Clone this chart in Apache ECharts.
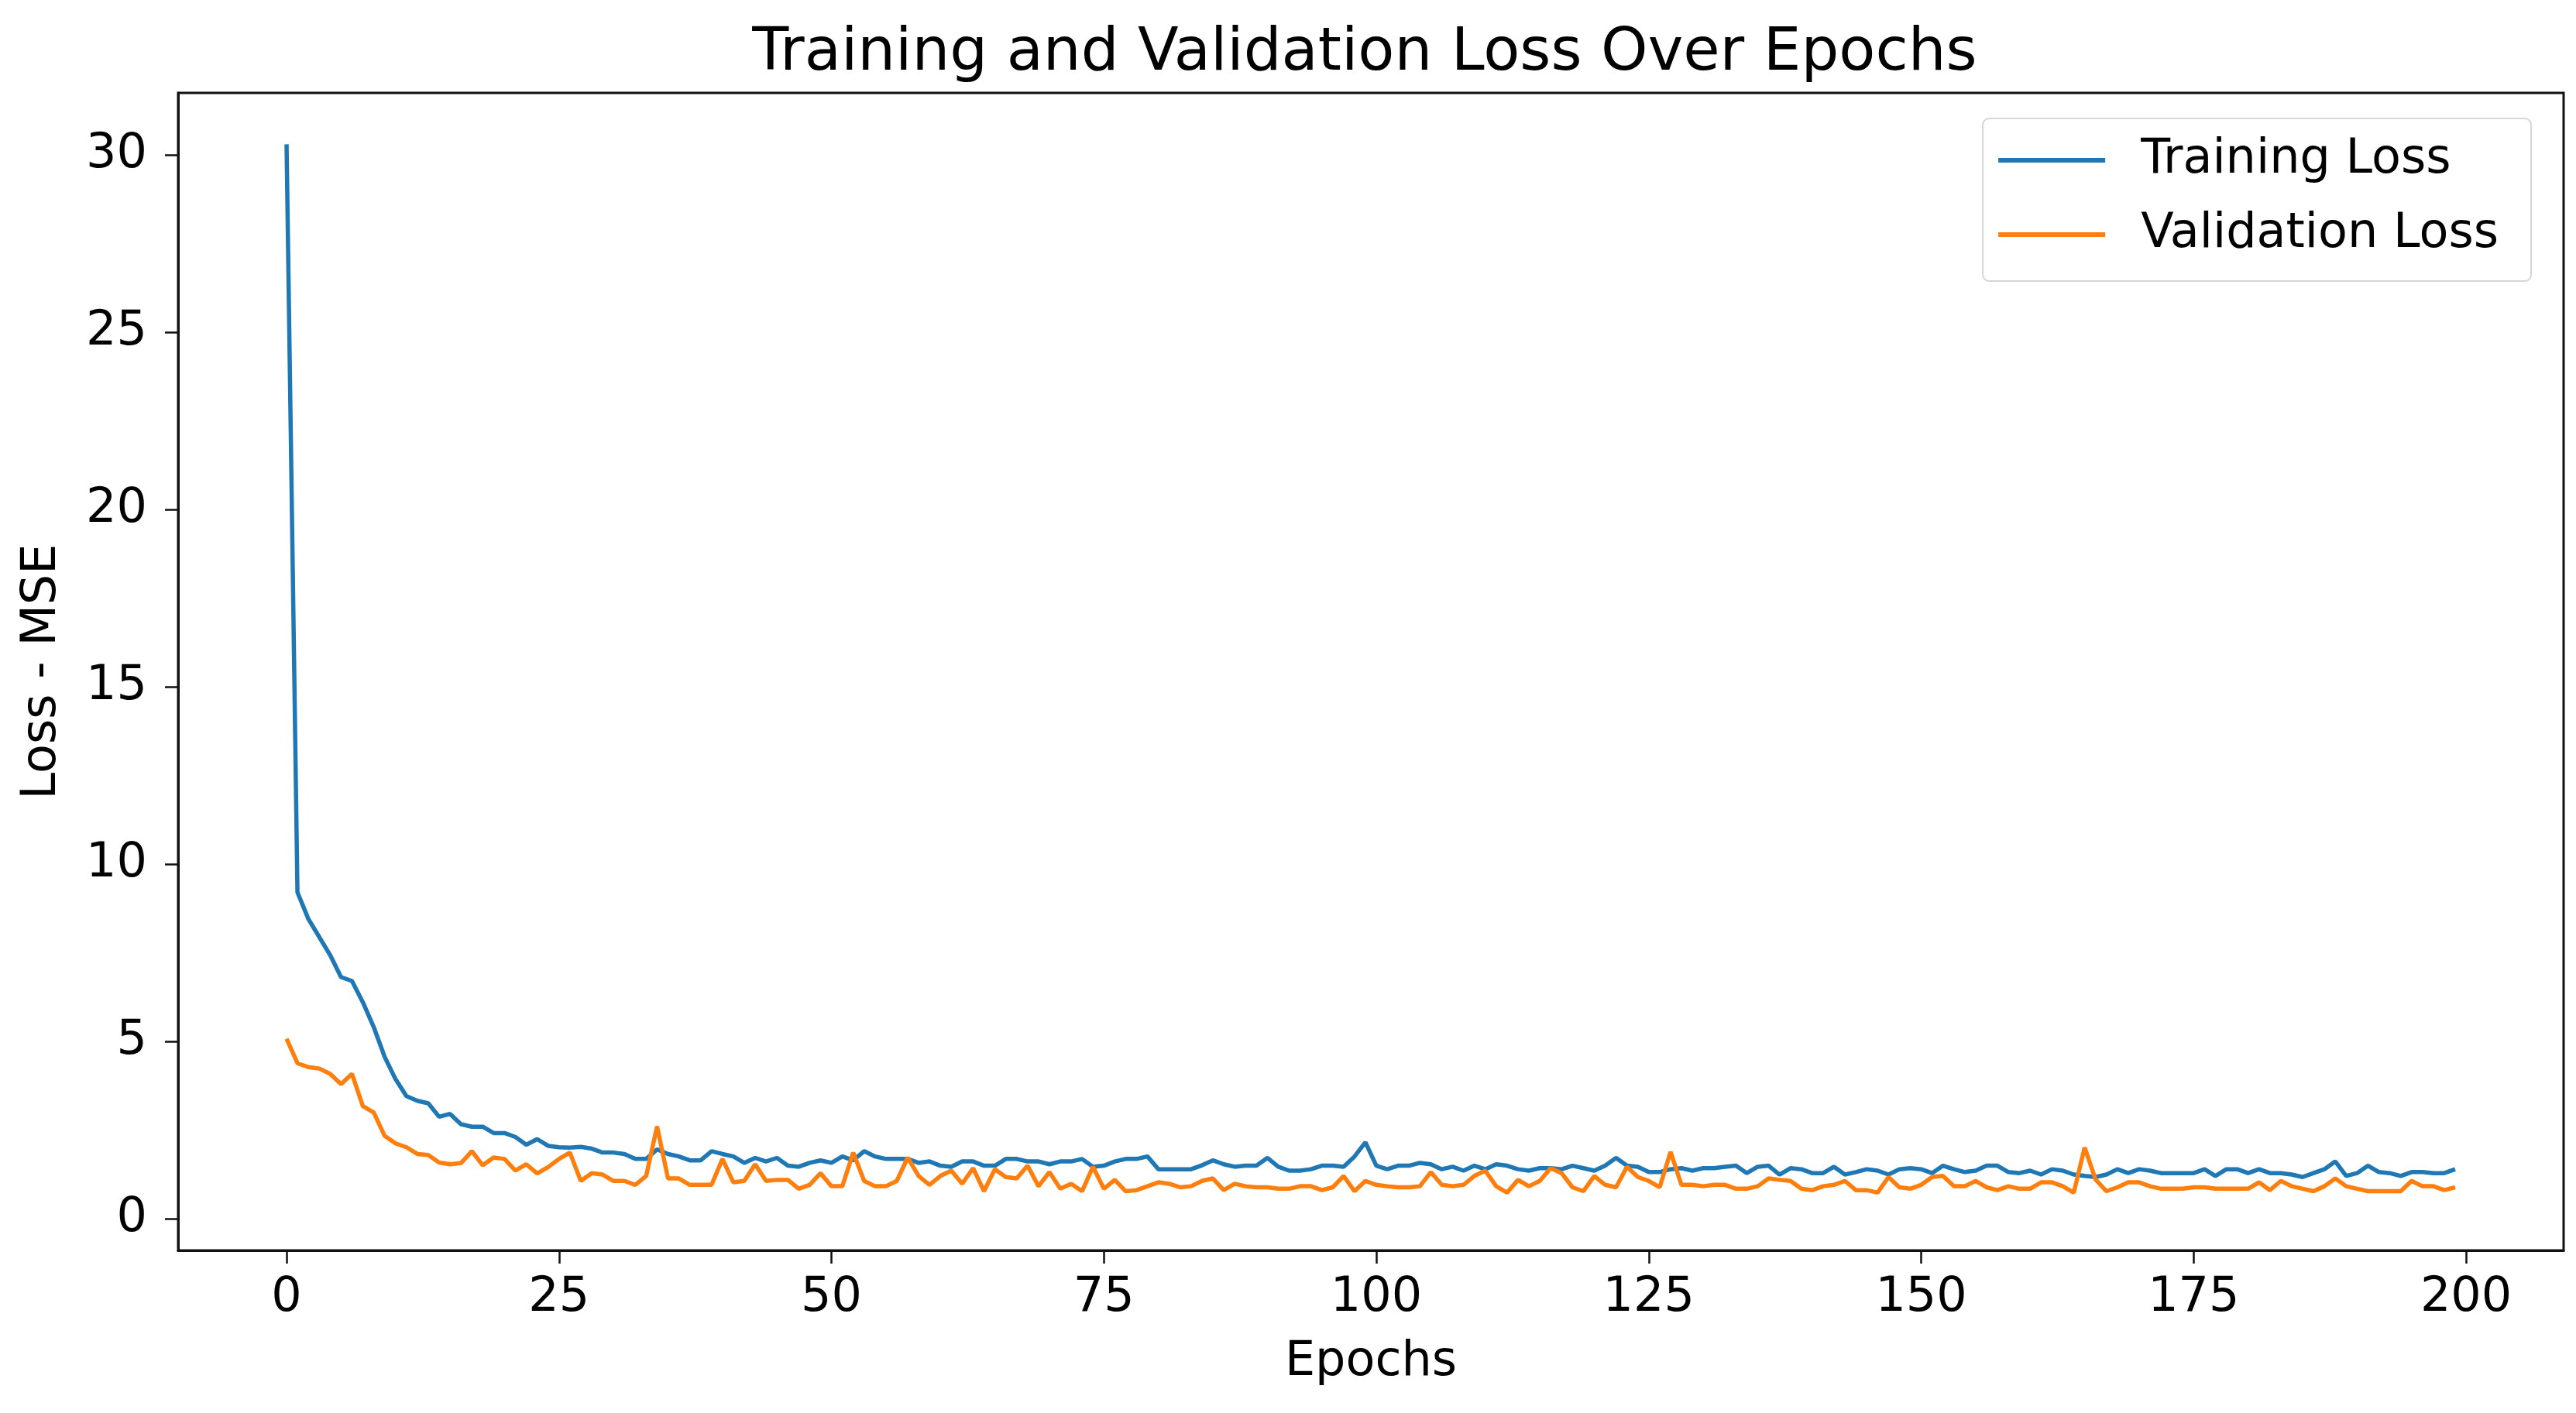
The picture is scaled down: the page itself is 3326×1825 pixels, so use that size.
<!DOCTYPE html>
<html>
<head>
<meta charset="utf-8">
<script src="https://cdn.jsdelivr.net/npm/echarts@6/dist/echarts.min.js"></script>
<style>html,body{margin:0;padding:0;background:#fff}#c{width:3326px;height:1825px}</style>
</head>
<body>
<div id="c"></div>
<script>
const titleText = 'Training and Validation Loss Over Epochs';
const xTicks = [0, 25, 50, 75, 100, 125, 150, 175, 200];
const yTicks = [0, 5, 10, 15, 20, 25, 30];
const seriesNames = ['Training Loss', 'Validation Loss'];

const trainingLoss = [
  30.3, 9.2, 8.45, 7.94, 7.43, 6.81, 6.7, 6.1, 5.4, 4.56,
  3.93, 3.45, 3.32, 3.25, 2.87, 2.95, 2.66, 2.59, 2.59, 2.41,
  2.41, 2.30, 2.08, 2.24, 2.05, 2.01, 2.0, 2.02, 1.97, 1.86,
  1.86, 1.82, 1.68, 1.68, 1.95, 1.82, 1.75, 1.64, 1.64, 1.90,
  1.82, 1.75, 1.57, 1.71, 1.61, 1.71, 1.49, 1.46, 1.57, 1.64,
  1.57, 1.75, 1.64, 1.90, 1.75, 1.68, 1.68, 1.68, 1.57, 1.61,
  1.49, 1.46, 1.61, 1.61, 1.49, 1.49, 1.68, 1.68, 1.61, 1.61,
  1.53, 1.61, 1.61, 1.68, 1.46, 1.49, 1.61, 1.68, 1.68, 1.75,
  1.39, 1.39, 1.39, 1.39, 1.50, 1.64, 1.53, 1.46, 1.49, 1.49,
  1.71, 1.46, 1.35, 1.35, 1.39, 1.49, 1.49, 1.46, 1.75, 2.15,
  1.49, 1.39, 1.49, 1.49, 1.57, 1.53, 1.39, 1.46, 1.35, 1.49,
  1.39, 1.53, 1.49, 1.39, 1.35, 1.42, 1.42, 1.39, 1.49, 1.42,
  1.35, 1.49, 1.71, 1.49, 1.46, 1.31, 1.31, 1.39, 1.42, 1.35,
  1.42, 1.42, 1.46, 1.49, 1.28, 1.46, 1.49, 1.24, 1.42, 1.39,
  1.28, 1.28, 1.46, 1.24, 1.31, 1.39, 1.35, 1.24, 1.39, 1.42,
  1.39, 1.28, 1.49, 1.39, 1.31, 1.35, 1.49, 1.49, 1.31, 1.28,
  1.35, 1.24, 1.39, 1.35, 1.24, 1.20, 1.17, 1.24, 1.39, 1.28,
  1.39, 1.35, 1.28, 1.28, 1.28, 1.28, 1.39, 1.20, 1.39, 1.39,
  1.28, 1.39, 1.28, 1.28, 1.24, 1.17, 1.28, 1.39, 1.61, 1.20,
  1.28, 1.49, 1.31, 1.28, 1.20, 1.31, 1.31, 1.28, 1.28, 1.39
];

const validationLoss = [
  5.07, 4.38, 4.27, 4.23, 4.08, 3.79, 4.08, 3.17, 2.99, 2.33,
  2.12, 2.01, 1.82, 1.79, 1.58, 1.53, 1.56, 1.90, 1.50, 1.72,
  1.68, 1.35, 1.53, 1.27, 1.45, 1.68, 1.86, 1.06, 1.28, 1.24,
  1.06, 1.06, 0.95, 1.20, 2.60, 1.13, 1.13, 0.95, 0.95, 0.95,
  1.68, 1.02, 1.06, 1.53, 1.06, 1.09, 1.09, 0.84, 0.95, 1.28,
  0.91, 0.91, 1.86, 1.06, 0.91, 0.91, 1.06, 1.72, 1.20, 0.95,
  1.20, 1.35, 0.98, 1.42, 0.77, 1.39, 1.17, 1.13, 1.49, 0.91,
  1.31, 0.84, 0.98, 0.77, 1.46, 0.84, 1.09, 0.77, 0.80, 0.91,
  1.02, 0.98, 0.88, 0.91, 1.06, 1.13, 0.80, 0.98, 0.91, 0.88,
  0.88, 0.84, 0.84, 0.91, 0.91, 0.80, 0.88, 1.20, 0.77, 1.06,
  0.95, 0.91, 0.88, 0.88, 0.91, 1.31, 0.95, 0.91, 0.95, 1.20,
  1.35, 0.91, 0.73, 1.09, 0.91, 1.06, 1.42, 1.28, 0.88, 0.77,
  1.20, 0.95, 0.88, 1.46, 1.17, 1.06, 0.88, 1.88, 0.95, 0.95,
  0.91, 0.95, 0.95, 0.84, 0.84, 0.91, 1.13, 1.09, 1.06, 0.84,
  0.80, 0.91, 0.95, 1.06, 0.80, 0.80, 0.73, 1.17, 0.88, 0.84,
  0.95, 1.17, 1.20, 0.91, 0.91, 1.06, 0.88, 0.80, 0.91, 0.84,
  0.84, 1.02, 1.02, 0.91, 0.73, 2.00, 1.10, 0.77, 0.88, 1.02,
  1.02, 0.91, 0.84, 0.84, 0.84, 0.88, 0.88, 0.84, 0.84, 0.84,
  0.84, 1.02, 0.80, 1.06, 0.91, 0.84, 0.77, 0.91, 1.13, 0.91,
  0.84, 0.77, 0.77, 0.77, 0.77, 1.06, 0.91, 0.91, 0.80, 0.88
];

const toPairs = arr => arr.map((v, i) => [i, v]);
const FONT = 'DejaVu Sans';

const chart = echarts.init(document.getElementById('c'), null, {renderer: 'canvas'});
chart.setOption({
  animation: false,
  backgroundColor: '#ffffff',
  title: {
    text: titleText,
    left: 1757,
    textAlign: 'center',
    top: 26,
    textStyle: {fontFamily: FONT, fontSize: 77, fontWeight: 'normal', color: '#000'}
  },
  legend: {
    orient: 'vertical',
    right: 58,
    top: 153,
    data: seriesNames.map(n => ({name: n, icon: 'rect'})),
    itemWidth: 138,
    itemHeight: 6,
    itemGap: 26,
    padding: [19, 42, 25, 20],
    borderColor: '#d6d6d6',
    borderWidth: 2,
    borderRadius: 8,
    backgroundColor: '#fff',
    textStyle: {fontFamily: FONT, fontSize: 62, color: '#000', lineHeight: 56, padding: [14, 0, 0, 41]}
  },
  grid: {
    left: 230, right: 16, top: 120, bottom: 210,
    show: true, borderColor: '#111', borderWidth: 3, backgroundColor: 'transparent'
  },
  xAxis: {
    type: 'value',
    min: -9.95, max: 208.95,
    name: 'Epochs',
    nameLocation: 'middle',
    nameGap: 114,
    nameTextStyle: {fontFamily: FONT, fontSize: 62, color: '#000'},
    axisLine: {show: true, onZero: false, lineStyle: {color: '#111', width: 3}},
    axisTick: {show: true, length: 17, lineStyle: {color: '#111', width: 2.5}, customValues: xTicks},
    axisLabel: {fontFamily: FONT, fontSize: 62, color: '#000', margin: 31, customValues: xTicks},
    splitLine: {show: false}
  },
  yAxis: {
    type: 'value',
    min: -0.9, max: 31.75,
    name: 'Loss - MSE',
    nameLocation: 'middle',
    nameRotate: 90,
    nameGap: 144,
    nameTextStyle: {fontFamily: FONT, fontSize: 62, color: '#000'},
    axisLine: {show: true, onZero: false, lineStyle: {color: '#111', width: 3}},
    axisTick: {show: true, length: 17, lineStyle: {color: '#111', width: 2.5}, customValues: yTicks},
    axisLabel: {fontFamily: FONT, fontSize: 62, color: '#000', margin: 40, customValues: yTicks},
    splitLine: {show: false}
  },
  series: [
    {
      name: seriesNames[0], type: 'line', data: toPairs(trainingLoss),
      showSymbol: false, symbol: 'none',
      lineStyle: {color: '#1f77b4', width: 5.5}, itemStyle: {color: '#1f77b4'}
    },
    {
      name: seriesNames[1], type: 'line', data: toPairs(validationLoss),
      showSymbol: false, symbol: 'none',
      lineStyle: {color: '#ff7f0e', width: 5.5}, itemStyle: {color: '#ff7f0e'}
    }
  ]
});
</script>
</body>
</html>
